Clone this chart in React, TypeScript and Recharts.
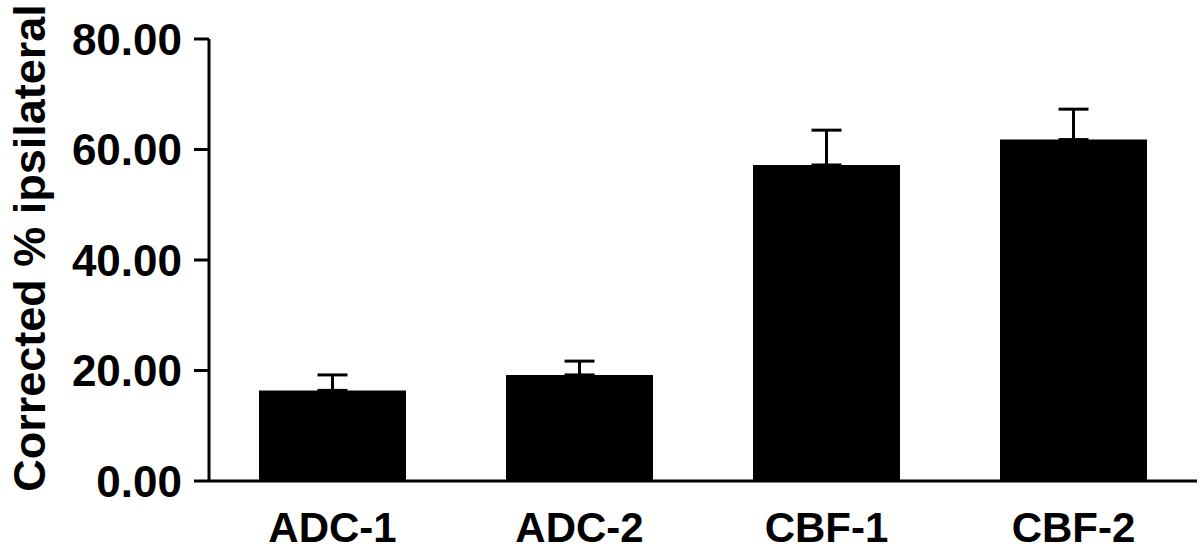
import { BarChart, Bar, XAxis, YAxis, ErrorBar, Label } from "recharts";

const groups = ["ADC-1", "ADC-2", "CBF-1", "CBF-2"];
const means = [16.4, 19.2, 57.2, 61.8];
const sem = [2.8, 2.5, 6.3, 5.5];
const yTicks = [0, 20, 40, 60, 80];

const data = groups.map((g, i) => ({ name: g, value: means[i], err: [0, sem[i]] }));

const font = "'Liberation Sans', Arial, sans-serif";

const YTitle = (props: any) => {
  const vb = props.viewBox || {};
  const cx = 45;
  const cy = vb.y + vb.height / 2 - 12;
  return (
    <text
      x={cx}
      y={cy}
      transform={`rotate(-90, ${cx}, ${cy})`}
      textAnchor="middle"
      fontFamily={font}
      fontWeight="bold"
      fontSize={45}
      fill="#000"
    >
      Corrected % ipsilateral
    </text>
  );
};

export default function App() {
  return (
    <div style={{ position: "absolute", left: 0, top: 0, background: "#fff" }}>
      <BarChart
        width={1200}
        height={553}
        data={data}
        margin={{ top: 39, right: 3, bottom: 0, left: 0 }}
      >
        <XAxis
          dataKey="name"
          height={72}
          tickLine={false}
          tickSize={0}
          tickMargin={31}
          axisLine={{ stroke: "#000", strokeWidth: 3 }}
          tick={{ fill: "#000", fontSize: 42, fontWeight: "bold", fontFamily: font }}
        />
        <YAxis
          width={209}
          domain={[0, 80]}
          ticks={yTicks}
          tickFormatter={(v: number) => v.toFixed(2)}
          tickSize={15}
          tickMargin={12}
          axisLine={{ stroke: "#000", strokeWidth: 3 }}
          tickLine={{ stroke: "#000", strokeWidth: 3 }}
          tick={{ fill: "#000", fontSize: 44, fontWeight: "bold", fontFamily: font }}
        >
          <Label content={YTitle} />
        </YAxis>
        <Bar dataKey="value" fill="#000" barSize={147} isAnimationActive={false}>
          <ErrorBar dataKey="err" width={15} stroke="#000" strokeWidth={3} direction="y" />
        </Bar>
      </BarChart>
    </div>
  );
}
